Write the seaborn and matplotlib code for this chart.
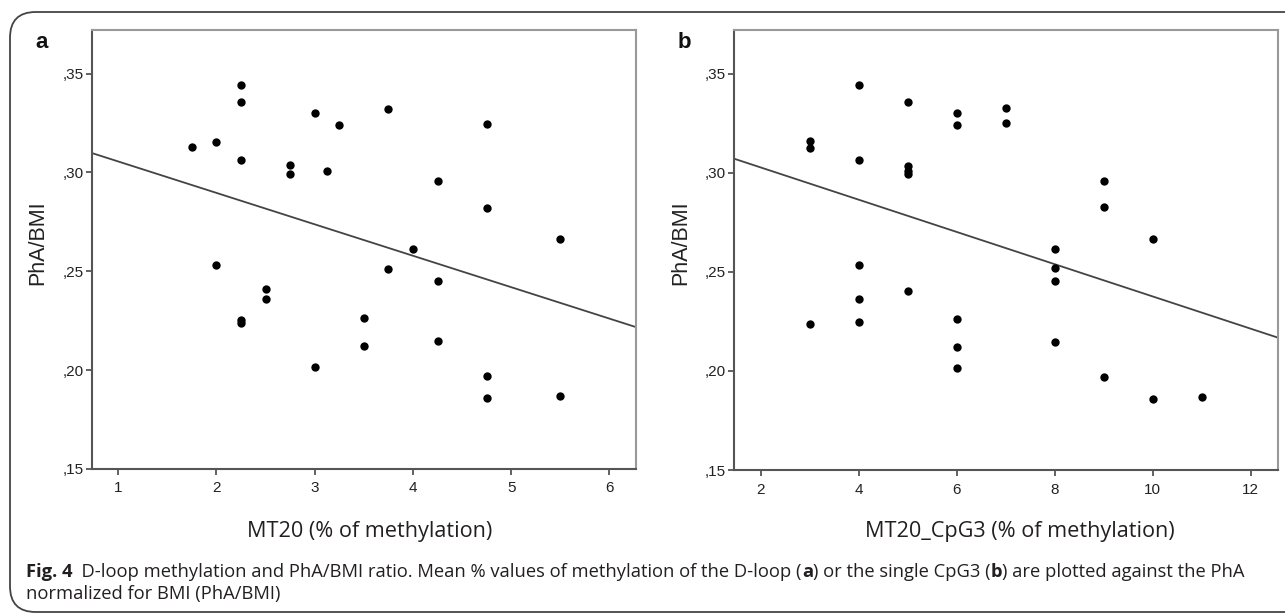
import matplotlib.pyplot as plt
import numpy as np
import pandas as pd
import seaborn as sns
from matplotlib.patches import FancyBboxPatch
from matplotlib.ticker import FuncFormatter

# panel a: mean D-loop methylation vs PhA/BMI
mt20 = [1.75, 2.0, 2.0, 2.25, 2.25, 2.25, 2.25, 2.25, 2.5, 2.5,
        2.75, 2.75, 3.0, 3.0, 3.125, 3.25, 3.5, 3.5, 3.75, 3.75,
        4.0, 4.25, 4.25, 4.25, 4.75, 4.75, 4.75, 4.75, 5.5, 5.5]
pha_a = [0.3126, 0.3155, 0.2532, 0.3440, 0.3356, 0.3062, 0.2252, 0.2240, 0.2409, 0.2362,
         0.3035, 0.2993, 0.3298, 0.2015, 0.3008, 0.3239, 0.2263, 0.2124, 0.3322, 0.2513,
         0.2613, 0.2956, 0.2453, 0.2146, 0.3247, 0.2822, 0.1972, 0.1861, 0.2665, 0.1871]

# panel b: single CpG3 methylation vs PhA/BMI
cpg3 = [3, 3, 3, 4, 4, 4, 4, 4, 5, 5,
        5, 5, 5, 6, 6, 6, 6, 6, 7, 7,
        8, 8, 8, 8, 9, 9, 9, 10, 10, 11]
pha_b = [0.3160, 0.3126, 0.2239, 0.3444, 0.3064, 0.2532, 0.2364, 0.2249, 0.3358, 0.3035,
         0.3008, 0.2993, 0.2405, 0.3300, 0.3242, 0.2263, 0.2123, 0.2015, 0.3325, 0.3251,
         0.2614, 0.2517, 0.2454, 0.2145, 0.2958, 0.2825, 0.1971, 0.2667, 0.1860, 0.1870]

yticks = [0.15, 0.20, 0.25, 0.30, 0.35]
xticks_a = [1, 2, 3, 4, 5, 6]
xticks_b = [2, 4, 6, 8, 10, 12]

sns.set_style("white")
plt.rcParams["font.family"] = ["Liberation Sans", "DejaVu Sans"]

W, H = 1285, 615
fig = plt.figure(figsize=(W / 100, H / 100), dpi=100)

# rounded frame around the figure + caption
frame = FancyBboxPatch((10 / W, 3 / H), 1.2, (H - 15) / H,
                       boxstyle="round,pad=0,rounding_size=0.02",
                       transform=fig.transFigure, fill=False,
                       edgecolor="#444444", linewidth=1.3,
                       mutation_aspect=W / H)
fig.patches.append(frame)


def px_axes(left, top, right, bottom):
    return fig.add_axes([left / W, 1 - bottom / H, (right - left) / W, (bottom - top) / H])


def style_axes(ax, xticks, xlim):
    ax.set_xlim(*xlim)
    ax.set_ylim(0.15, 0.372)
    ax.set_xticks(xticks)
    ax.set_yticks(yticks)
    ax.yaxis.set_major_formatter(FuncFormatter(lambda v, p: "," + f"{v:.2f}"[2:]))
    ax.tick_params(direction="out", length=4, width=1.3, color="#555555",
                   labelsize=11, labelcolor="#222222", pad=2,
                   bottom=True, left=True)
    ax.tick_params(axis="x", pad=5)
    for side in ["left", "bottom"]:
        ax.spines[side].set_color("#555555")
        ax.spines[side].set_linewidth(1.5)
    for side in ["top", "right"]:
        ax.spines[side].set_color("#999999")
        ax.spines[side].set_linewidth(1.5)


panels = [
    (mt20, pha_a, xticks_a, (0.73, 6.27), (91.7, 30, 636, 469), "a",
     "MT20 (% of methylation)", 370, 15.6),
    (cpg3, pha_b, xticks_b, (1.46, 12.56), (734.3, 30, 1278.3, 470), "b",
     "MT20_CpG3 (% of methylation)", 1020, 15.6),
]

for xs, ys, xt, xlim, box, letter, xlabel, xl_center, xl_size in panels:
    ax = px_axes(*box)
    df = pd.DataFrame({"x": xs, "y": ys})
    style_axes(ax, xt, xlim)
    sns.regplot(data=df, x="x", y="y", ax=ax, ci=None, truncate=False,
                scatter_kws={"s": 36, "color": "black", "alpha": 1,
                             "linewidths": 0, "zorder": 3},
                line_kws={"color": "#444444", "linewidth": 1.3})
    ax.set_xlim(*xlim)
    ax.set_ylim(0.15, 0.372)
    ax.set_xlabel("")
    ax.set_ylabel("")
    fig.text((box[0] - 54) / W, 1 - 243 / H, "PhA/BMI", rotation=90,
             ha="center", va="center", fontsize=15.5, color="#222222")
    fig.text((box[0] - 50) / W, 1 - 43 / H, letter, ha="center", va="center",
             fontsize=16, fontweight="bold", color="#111111")
    fig.text(xl_center / W, 1 - 532 / H, xlabel, ha="center", va="center",
             fontsize=xl_size, color="#231f20", family=["Open Sans", "DejaVu Sans"])

# caption with mixed bold runs
cap_font = ["Open Sans", "DejaVu Sans"]
cap_size = 13.2
line1 = [("Fig. 4", "bold"),
         ("  D-loop methylation and PhA/BMI ratio. Mean % values of methylation of the D-loop (", "normal"),
         ("a", "bold"), (") or the single CpG3 (", "normal"), ("b", "bold"),
         (") are plotted against the PhA", "normal")]
line2 = [("normalized for BMI (PhA/BMI)", "normal")]

renderer = fig.canvas.get_renderer()
for runs, base in [(line1, 577), (line2, 599)]:
    x = 26
    for s, wt in runs:
        t = fig.text(x / W, 1 - base / H, s, ha="left", va="baseline",
                     fontsize=cap_size, fontweight=wt, color="#231f20", family=cap_font)
        bb = t.get_window_extent(renderer=renderer)
        x += bb.width

fig.savefig("out.png", dpi=100)
